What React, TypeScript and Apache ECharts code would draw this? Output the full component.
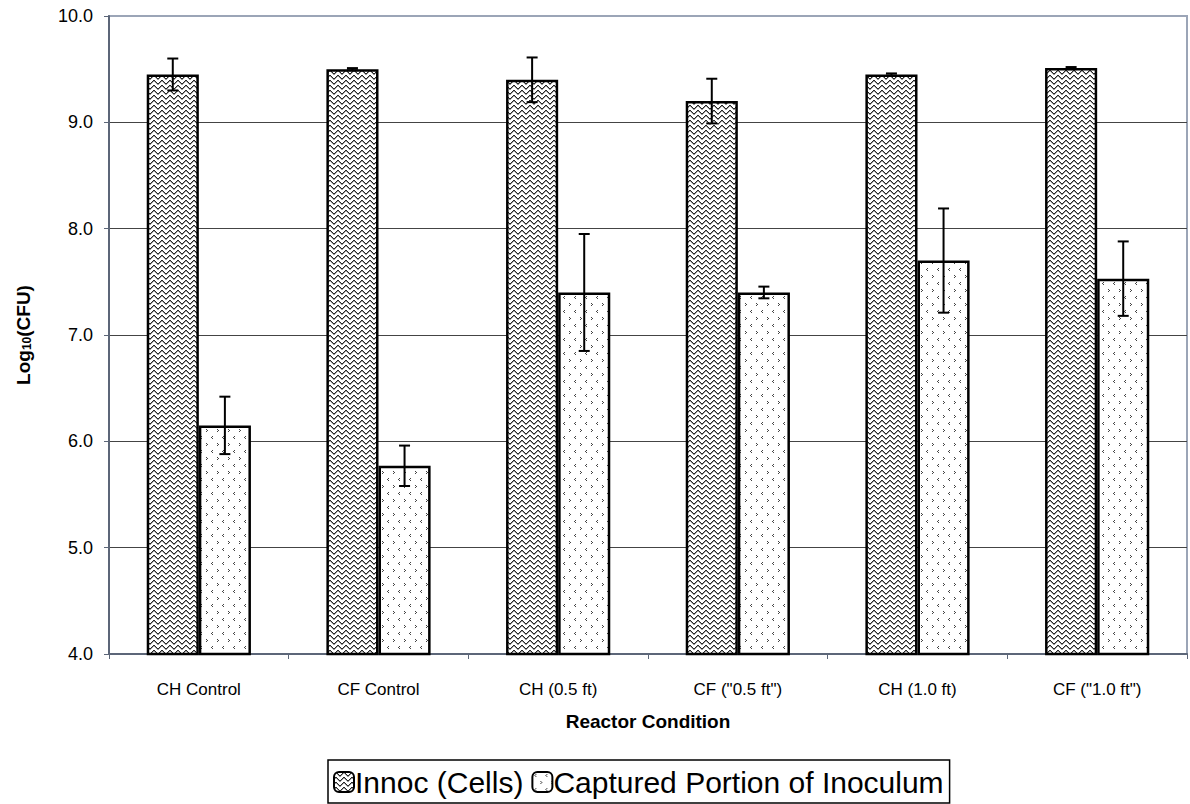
import React, { useEffect, useRef } from "react";
import * as echarts from "echarts";

const categories = ["CH Control", "CF Control", "CH (0.5 ft)", 'CF ("0.5 ft")', "CH (1.0 ft)", 'CF ("1.0 ft")'];
const innoc = [9.45, 9.5, 9.4, 9.2, 9.45, 9.51];
const innocErr = [0.15, 0.01, 0.21, 0.21, 0.01, 0.01];
const captured = [6.15, 5.77, 7.4, 7.4, 7.7, 7.53];
const capturedErr = [0.27, 0.19, 0.55, 0.055, 0.49, 0.35];
const seriesNames = ["Innoc (Cells)", "Captured Portion of Inoculum"];

const CAT_GAP = 0.42;

function wavePattern() {
  const c = document.createElement("canvas");
  c.width = 8;
  c.height = 5;
  const ctx = c.getContext("2d")!;
  ctx.fillStyle = "#ffffff";
  ctx.fillRect(0, 0, 8, 5);
  ctx.fillStyle = "#262626";
  const ys = [1, 0, 0, 1, 2, 3, 3, 2];
  for (let x = 0; x < 8; x++) {
    ctx.fillRect(x, ys[x], 1, 1);
  }
  ctx.fillStyle = "#9a9a9a";
  const ys2 = [2, 1, 1, 2, 3, 4, 4, 3];
  for (let x = 0; x < 8; x++) {
    ctx.fillRect(x, ys2[x], 1, 1);
  }
  return { image: c.toDataURL(), repeat: "repeat", imageWidth: 8, imageHeight: 5 };
}

function dotPattern() {
  const c = document.createElement("canvas");
  c.width = 11;
  c.height = 14;
  const ctx = c.getContext("2d")!;
  ctx.fillStyle = "#ffffff";
  ctx.fillRect(0, 0, 11, 14);
  ctx.fillStyle = "#444444";
  ctx.fillRect(3, 2, 1, 1);
  ctx.fillRect(2, 3, 1, 1);
  ctx.fillRect(3, 4, 1, 1);
  ctx.fillRect(8, 9, 1, 1);
  ctx.fillRect(9, 10, 1, 1);
  ctx.fillRect(8, 11, 1, 1);
  return { image: c.toDataURL(), repeat: "repeat", imageWidth: 11, imageHeight: 14 };
}

export default function App() {
  const ref = useRef<HTMLDivElement>(null);
  useEffect(() => {
    if (!ref.current) return;
    document.body.style.margin = "0";
    const chart = echarts.init(ref.current, null, { renderer: "svg" });
    const font = "'Liberation Sans', Arial, sans-serif";
    const wave = wavePattern();
    const dots = dotPattern();

    const errData = (vals: number[], errs: number[], s: number) =>
      vals.map((v, i) => [i, v, errs[i], s]);

    const renderErr = (params: any, api: any) => {
      const idx = api.value(0);
      const v = api.value(1);
      const e = api.value(2);
      const s = api.value(3);
      const band = api.size([1, 0])[0];
      const barW = (band * (1 - CAT_GAP)) / 2;
      const off = s === 0 ? -barW / 2 : barW / 2;
      const hi = api.coord([idx, v + e]);
      const lo = api.coord([idx, v - e]);
      const x = hi[0] + off;
      const cap = 5.5;
      const st = { stroke: "#000", lineWidth: 2 };
      return {
        type: "group",
        children: [
          { type: "line", shape: { x1: x, y1: hi[1], x2: x, y2: lo[1] }, style: st },
          { type: "line", shape: { x1: x - cap, y1: hi[1], x2: x + cap, y2: hi[1] }, style: st },
          { type: "line", shape: { x1: x - cap, y1: lo[1], x2: x + cap, y2: lo[1] }, style: st },
        ],
      };
    };

    const gridLineColors = ["#444", "#444", "#444", "#444", "#444", "#444", "#9ba5b7"];

    chart.setOption({
      animation: false,
      backgroundColor: "#ffffff",
      textStyle: { fontFamily: font },
      grid: {
        left: 109,
        right: 3,
        top: 16,
        bottom: 150,
        show: true,
        borderColor: "#9ba5b7",
        borderWidth: 2,
        backgroundColor: "transparent",
      },
      legend: {
        data: seriesNames,
        left: 328,
        bottom: 1,
        orient: "horizontal",
        itemWidth: 20,
        itemHeight: 20,
        itemGap: 8,
        borderColor: "#000",
        borderWidth: 1.5,
        padding: [7, 6, 6, 5],
        textStyle: { fontSize: 30, color: "#000", fontFamily: font, padding: [0, 0, 0, -4] },
      },
      xAxis: {
        type: "category",
        data: categories,
        name: "Reactor Condition",
        nameLocation: "middle",
        nameGap: 58,
        nameTextStyle: { fontSize: 19, fontWeight: "bold", color: "#000", fontFamily: font },
        axisLine: { lineStyle: { color: "#5c6678", width: 2 } },
        axisTick: { show: true, length: 5, lineStyle: { color: "#5c6678", width: 1 } },
        axisLabel: { fontSize: 17, color: "#000", margin: 27, fontFamily: font },
      },
      yAxis: {
        type: "value",
        min: 4,
        max: 10,
        interval: 1,
        name: "Log{sub|10}(CFU)",
        nameLocation: "middle",
        nameGap: 76,
        nameRotate: 90,
        nameTextStyle: {
          fontSize: 19,
          fontWeight: "bold",
          color: "#000",
          fontFamily: font,
          rich: {
            sub: { fontSize: 12, fontWeight: "bold", verticalAlign: "bottom", padding: [8, 0, 0, 0] },
          },
        },
        axisLine: { show: true, lineStyle: { color: "#5c6678", width: 2 } },
        axisTick: { show: true, length: 5, lineStyle: { color: "#5c6678", width: 1 } },
        axisLabel: {
          fontSize: 18,
          color: "#000",
          margin: 16,
          fontFamily: font,
          formatter: (v: number) => v.toFixed(1),
        },
        splitLine: { show: true, lineStyle: { color: gridLineColors, width: 1 } },
      },
      series: [
        {
          name: seriesNames[0],
          type: "bar",
          data: innoc,
          barGap: "0%",
          barCategoryGap: CAT_GAP * 100 + "%",
          itemStyle: { color: wave as any, borderColor: "#000", borderWidth: 2.5 },
        },
        {
          name: seriesNames[1],
          type: "bar",
          data: captured,
          barGap: "0%",
          barCategoryGap: CAT_GAP * 100 + "%",
          itemStyle: { color: dots as any, borderColor: "#000", borderWidth: 2.5 },
        },
        {
          type: "custom",
          name: "err-innoc",
          data: errData(innoc, innocErr, 0),
          encode: { x: 0, y: 1 },
          renderItem: renderErr,
          z: 10,
        },
        {
          type: "custom",
          name: "err-captured",
          data: errData(captured, capturedErr, 1),
          encode: { x: 0, y: 1 },
          renderItem: renderErr,
          z: 10,
        },
      ],
    });
    return () => chart.dispose();
  }, []);
  return <div ref={ref} style={{ width: 1190, height: 804 }} />;
}
